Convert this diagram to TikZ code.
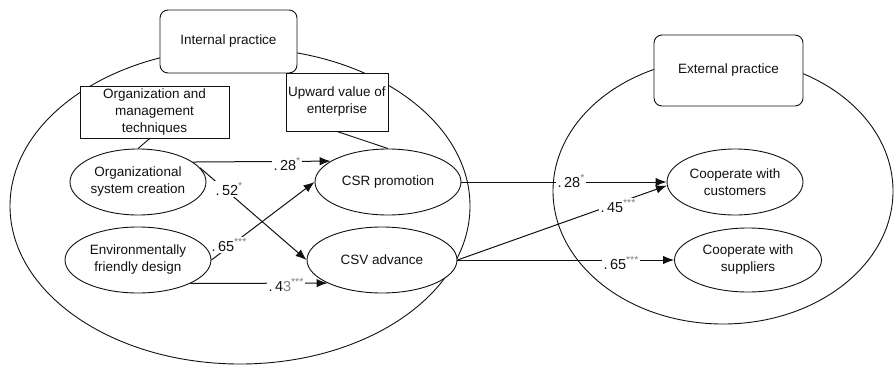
\documentclass[tikz,border=0pt]{standalone}
\usepackage{fontspec}
\setmainfont{Liberation Sans}
\usetikzlibrary{shapes.geometric,arrows.meta}
\definecolor{ink}{HTML}{111111}
\definecolor{stargray}{HTML}{808080}
\newcommand{\st}[1]{\raisebox{0.42em}{\fontsize{10.5}{10.5}\selectfont\textcolor{stargray}{#1}}}
\tikzset{
  txt/.style={font=\fontsize{13.5}{17}\selectfont, text=ink, align=center},
  bigell/.style={draw=ink, line width=0.9pt},
  rbox/.style={txt, draw=ink, line width=0.9pt, fill=white, rounded corners=8pt, inner sep=0pt},
  sbox/.style={txt, draw=ink, line width=0.9pt, fill=white, inner sep=0pt},
  var/.style={txt, ellipse, draw=ink, line width=0.9pt, fill=white, inner sep=0pt},
  arr/.style={draw=ink, line width=1pt, -{Latex[length=11pt,width=8.5pt]}},
  link/.style={draw=ink, line width=0.9pt},
  lbl/.style={font=\fontsize{14.5}{16}\selectfont, text=ink, fill=white, inner sep=1.5pt}
}
\begin{document}
\begin{tikzpicture}[x=1pt,y=-1pt]
\useasboundingbox (0,0) rectangle (894,367);
\fill[white] (0,0) rectangle (894,367);
% big groups
\draw[bigell] (240,206) ellipse [x radius=230pt, y radius=158pt];
\draw[bigell] (723,191) ellipse [x radius=170pt, y radius=133pt];
% headings
\node[rbox, minimum width=137pt, minimum height=63pt] (intp) at (228.5,41.5) {Internal practice};
\node[rbox, minimum width=149pt, minimum height=71pt] (extp) at (728.5,70.5) {External practice};
\node[sbox, minimum width=149pt, minimum height=52pt] (orgbox) at (154.5,112) {Organization and\\management\\techniques};
\node[sbox, minimum width=102pt, minimum height=58pt] (upbox) at (337,102) {Upward value of\\enterprise};
% variables
\node[var, minimum width=136pt, minimum height=66pt] (osc) at (138,182) {Organizational\\system creation};
\node[var, minimum width=146pt, minimum height=66pt] (efd) at (138,260) {Environmentally\\friendly design};
\node[var, minimum width=146pt, minimum height=66pt] (csr) at (388,182) {CSR promotion};
\node[var, minimum width=150pt, minimum height=66pt] (csv) at (382,260) {CSV advance};
\node[var, minimum width=136pt, minimum height=66pt] (cc) at (735,182) {Cooperate with\\customers};
\node[var, minimum width=147pt, minimum height=64pt] (cs) at (748,260) {Cooperate with\\suppliers};
% links
\draw[link] (orgbox.260) -- (osc.north);
\draw[link] (upbox.south) -- (csr.north);
% paths
\draw[arr] (osc.20) -- (csr.160);
\draw[arr] (osc.13) -- (csv.west);
\draw[arr] (efd.east) -- (csr.west);
\draw[arr] (efd.-24) -- (csv.203);
\draw[arr] (csr.east) -- (cc.west);
\draw[arr] (csv.east) -- (cc.183);
\draw[arr] (csv.east) -- (cs.west);
% labels
\node[lbl] (l1) at (287,164) {.\,28\st{*}};
\node[lbl] (l2) at (229,189) {.\,52\st{*}};
\node[lbl] (l3) at (229,245) {.\,65\st{***}};
\node[lbl] (l4) at (286,285) {.\,4\textcolor{stargray}{3}\st{***}};
\node[lbl] (l5) at (571,181) {.\,28\st{*}};
\node[lbl] (l6) at (618,206) {.\,45\st{***}};
\node[lbl] (l7) at (621,263) {.\,65\st{***}};
\end{tikzpicture}
\end{document}
